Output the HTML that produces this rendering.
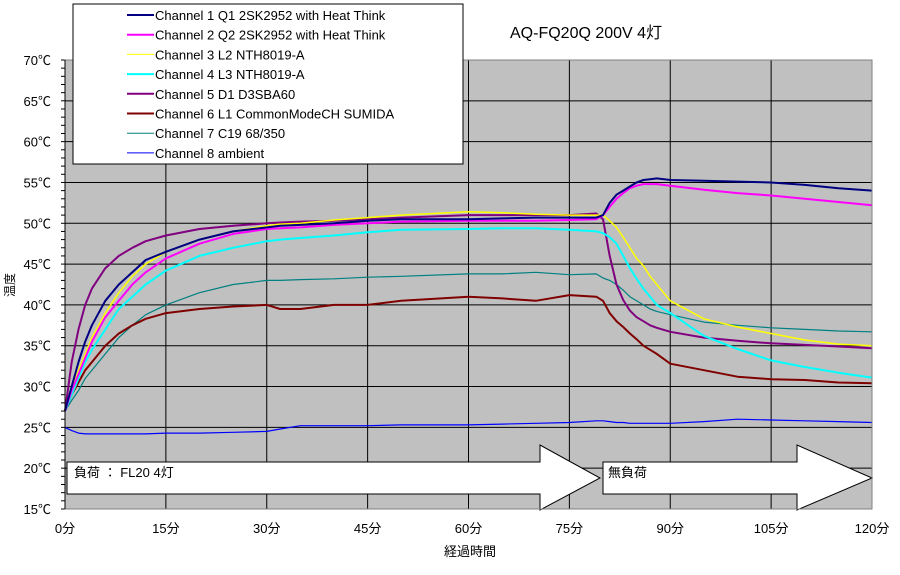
<!DOCTYPE html>
<html><head><meta charset="utf-8"><style>
body{margin:0;background:#fff;}
svg text{font-family:"Liberation Sans","Noto Sans CJK JP",sans-serif;}
</style></head><body>
<svg id="c" width="900" height="570" viewBox="0 0 900 570" xmlns="http://www.w3.org/2000/svg">
<rect x="65" y="60" width="807" height="449" fill="#c0c0c0"/>
<g id="grid"></g>
<g id="arrows"></g>
<g id="series"></g>
<g id="axes"></g>
<text x="510" y="38" font-size="16" fill="#000">AQ-FQ20Q 200V 4灯</text>
<text x="470" y="556" font-size="13" text-anchor="middle">経過時間</text>
<text x="14" y="285" font-size="12" text-anchor="middle" transform="rotate(-90 14 285)">温度</text>
<g id="legend"></g>
</svg>
<script>
const times=[0,1,2,3,4,6,8,10,12,15,20,25,30,32,35,40,45,50,60,65,70,75,79,80,81,82,83,84,85,86,87,88,90,95,100,105,110,115,120];
const ch1=[27,30,33,35.5,37.5,40.5,42.5,44,45.5,46.5,48,49,49.5,49.7,49.8,50,50.3,50.5,50.5,50.6,50.7,50.7,50.7,51,52.5,53.5,54,54.5,55,55.3,55.4,55.5,55.3,55.2,55.1,55,54.7,54.3,54];
const ch2=[27,29.5,31.5,33.5,35.5,38.5,40.5,42.5,44,45.7,47.5,48.7,49.3,49.4,49.5,49.8,50,50.2,50.3,50.3,50.3,50.4,50.5,51,52,53,53.7,54.3,54.6,54.8,54.8,54.8,54.6,54.1,53.7,53.4,53,52.6,52.2];
const ch3=[27,29.5,32,34,36,39,41.5,43.5,45,46.5,48,49,49.7,49.9,50,50.4,50.7,51,51.4,51.3,51.1,51,51,51,50.3,49.5,48.3,47,45.7,44.8,43.5,42.5,40.5,38.3,37.3,36.5,35.7,35.2,35];
const ch4=[27,29,31,33,34.5,37,39.5,41,42.5,44.2,46,47,47.8,48,48.2,48.5,48.9,49.2,49.3,49.4,49.4,49.2,49,48.8,48.3,47.5,46,44.5,43.2,42,41,40,39,36.2,34.6,33.2,32.4,31.7,31.1];
const ch5=[27,33,37,40,42,44.5,46,47,47.8,48.5,49.3,49.7,50,50.1,50.2,50.3,50.5,50.7,51,51,51,51,51.2,50.5,46,42.5,40.6,39.3,38.5,38,37.5,37.2,36.7,36,35.6,35.3,35.1,34.9,34.7];
const ch6=[27,29,30.5,32,33,35,36.5,37.5,38.3,39,39.5,39.8,40,39.5,39.5,40,40,40.5,41,40.8,40.5,41.2,41,40.5,39,38,37.3,36.5,35.8,35,34.5,34,32.8,32,31.2,30.9,30.8,30.5,30.4];
const ch7=[27,28.3,29.5,31,32,34,36,37.5,38.8,40,41.5,42.5,43,43,43.1,43.2,43.4,43.5,43.8,43.8,44,43.7,43.8,43.3,43,42.5,41.8,41,40.5,40,39.5,39.2,38.8,37.9,37.5,37.2,37,36.8,36.7];
const ch8=[25,24.6,24.3,24.2,24.2,24.2,24.2,24.2,24.2,24.3,24.3,24.4,24.5,24.8,25.2,25.2,25.2,25.3,25.3,25.4,25.5,25.6,25.8,25.8,25.7,25.6,25.6,25.5,25.5,25.5,25.5,25.5,25.5,25.7,26,25.9,25.8,25.7,25.6];
const seriesNames=["Channel 1 Q1 2SK2952 with Heat Think","Channel 2 Q2 2SK2952 with Heat Think","Channel 3 L2 NTH8019-A","Channel 4 L3 NTH8019-A","Channel 5 D1 D3SBA60","Channel 6 L1 CommonModeCH SUMIDA","Channel 7 C19 68/350","Channel 8 ambient"];
const yTicks=[15,20,25,30,35,40,45,50,55,60,65,70];
const xTicks=[0,15,30,45,60,75,90,105,120];
const NS="http://www.w3.org/2000/svg";
const X0=65,X1=872,Y0=509,Y1=60;
const xs=t=>X0+(t/120)*(X1-X0);
const ys=v=>Y0-(v-15)/55*(Y0-Y1);
function mk(tag,attrs,parent){const e=document.createElementNS(NS,tag);for(const k in attrs)e.setAttribute(k,attrs[k]);parent.appendChild(e);return e;}
const grid=document.getElementById('grid'),axes=document.getElementById('axes');
yTicks.forEach(v=>{
  const l=mk('line',{x1:X0,x2:X1,y1:ys(v),y2:ys(v),stroke:'#000','stroke-width':1},grid);
  
  
  const t=mk('text',{x:X0-14,y:ys(v)+5,'font-size':13,'text-anchor':'end'},axes);
  t.textContent=v+'℃';
  
  
});
for(let v=15;v<=70;v++){const m=mk('line',{x1:X0-4,x2:X0,y1:ys(v),y2:ys(v),stroke:'#000'},axes);
  
  }
xTicks.forEach(t=>{
  const l=mk('line',{x1:xs(t),x2:xs(t),y1:Y1,y2:Y0,stroke:'#000','stroke-width':1},grid);
  
  
  const tx=mk('text',{x:xs(t),y:Y0+24,'font-size':13,'text-anchor':'middle'},axes);
  tx.textContent=t+'分';
  
  
});
const fr=mk('rect',{x:X0,y:Y1,width:X1-X0,height:Y0-Y1,fill:'none',stroke:'#808080'},axes);


const al=mk('line',{x1:X0,x2:X0,y1:Y1,y2:Y0,stroke:'#000'},axes);


// arrows
const ar=document.getElementById('arrows');
const a1=mk('polygon',{points:"67,462 540,462 540,445 600,478 540,510 540,494 67,494",fill:'#fff',stroke:'#000'},ar);


const a1t=mk('text',{x:74,y:477,'font-size':13},ar);a1t.textContent='負荷 ： FL20 4灯';


const a2=mk('polygon',{points:"603,462 797,462 797,445 872,478 797,510 797,494 603,494",fill:'#fff',stroke:'#000'},ar);


const a2t=mk('text',{x:608,y:477,'font-size':13},ar);a2t.textContent='無負荷';


// series
const data=[ch8,ch7,ch6,ch5,ch4,ch3,ch2,ch1];
const colors=['#0000ff','#008080','#800000','#800080','#00ffff','#ffff00','#ff00ff','#000080'];
const widths=[1.2,1.2,2,2,2,1.5,2,2];
const sg=document.getElementById('series');
data.forEach((d,i)=>{
  const p=mk('polyline',{points:d.map((v,j)=>xs(times[j]).toFixed(1)+','+ys(v).toFixed(1)).join(' '),fill:'none',stroke:colors[i],'stroke-width':widths[i],'stroke-linejoin':'round'},sg);
  
  
});
// legend
const lg=document.getElementById('legend');
const lb=mk('rect',{x:73,y:4,width:390,height:160,fill:'#fff',stroke:'#000'},lg);


const lc=['#000080','#ff00ff','#ffff00','#00ffff','#800080','#800000','#008080','#0000ff'];
const lw=[2,2,1,2,2,2,1,1];
seriesNames.forEach((n,i)=>{
  const y=15+i*19.7;
  const g=mk('g',{},lg);
  
  
  mk('line',{x1:127,x2:154,y1:y,y2:y,stroke:lc[i],'stroke-width':lw[i]},g);
  const t=mk('text',{x:155,y:y+5,'font-size':13},g);t.textContent=n;
});
</script>
</body></html>
